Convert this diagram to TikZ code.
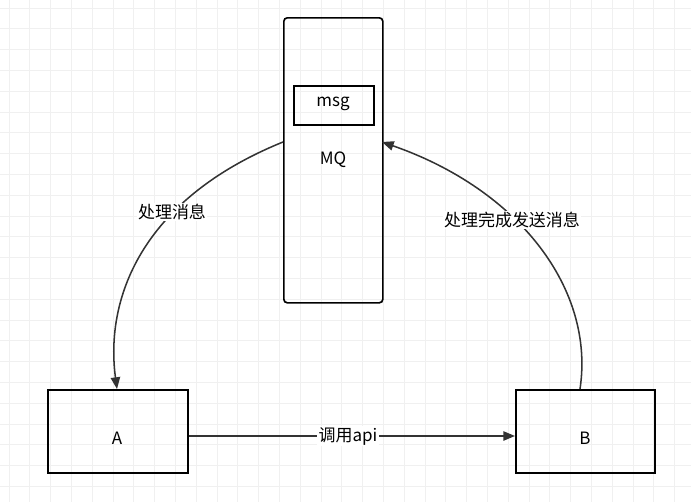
\documentclass[tikz,border=0pt]{standalone}
\usepackage{fontspec}
\setmainfont{Noto Sans CJK SC}
\usepackage{tikz}
\usetikzlibrary{arrows.meta, positioning}

\begin{document}
\begin{tikzpicture}[
    x=0.03cm, y=-0.03cm,
    font=\fontsize{14.5}{17}\selectfont,
    box/.style={rectangle, draw, line width=1.4pt, anchor=north west, inner sep=0pt},
    lbl/.style={fill=white, inner sep=1pt},
    link/.style={draw=black!80, line width=1.3pt, -{Triangle[length=10pt,width=8pt]}},
]
% background grid
\useasboundingbox (0,0) rectangle (691,502);
\foreach \i in {0,...,33} {
  \draw[black!6, line width=0.8pt] (9+20.8*\i,0) -- (9+20.8*\i,502);
}
\foreach \i in {0,...,24} {
  \draw[black!6, line width=0.8pt] (0,8+20.8*\i) -- (691,8+20.8*\i);
}

% queue
\node[box, rounded corners=3pt, minimum width=2.97cm, minimum height=8.55cm] (mq) at (283,17) {};
\node[box, minimum width=2.4cm, minimum height=1.17cm] (msg) at (293,85) {};
\node at (333,104) {msg};
\node (mqlabel) at (333,160) {MQ};

% services
\node[box, minimum width=4.2cm, minimum height=2.49cm] (a) at (47,389) {};
\node at (117,438) {A};
\node[box, minimum width=4.17cm, minimum height=2.49cm] (b) at (515,389) {};
\node at (585,438) {B};

% connectors
\coordinate (mqleft) at (283,142);
\coordinate (mqright) at (382,142);
\coordinate (atop) at (117,389);
\coordinate (btop) at (580,389);
\draw[link] (mqleft) .. controls (140,200) and (105,300) .. (atop);
\draw[link] (btop) .. controls (595,290) and (520,190) .. (mqright);
\draw[link] (a.east |- 0,436) -- (b.west |- 0,436);

% labels
\node[lbl] at (172,212) {处理消息};
\node[lbl] at (512,220) {处理完成发送消息};
\node[lbl] at (348,436) {调用api};
\end{tikzpicture}
\end{document}
